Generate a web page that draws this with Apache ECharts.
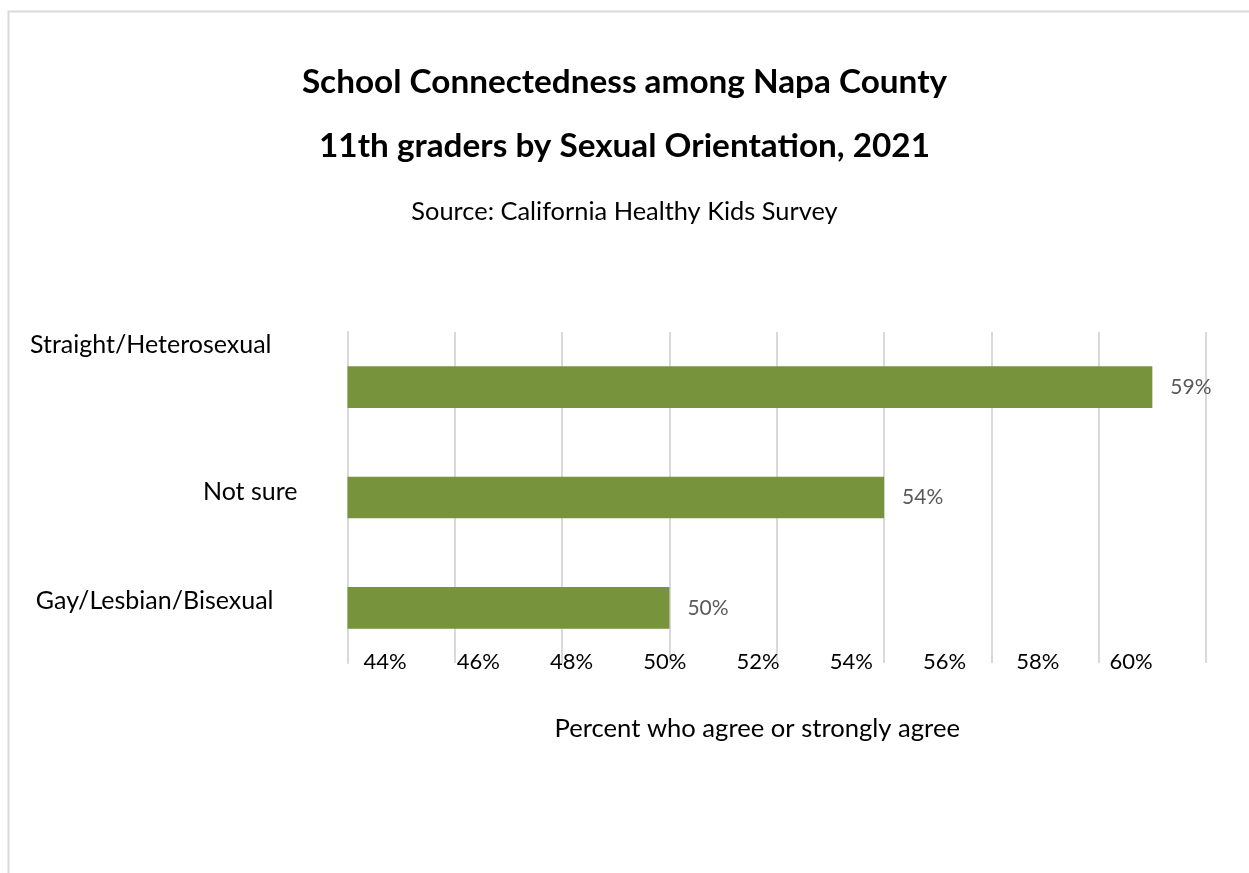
<!DOCTYPE html>
<html>
<head>
<meta charset="utf-8">
<script src="https://cdn.jsdelivr.net/npm/echarts@6/dist/echarts.min.js"></script>
<style>
html,body{margin:0;padding:0;background:#fff;}
#chart{width:1249px;height:873px;}
</style>
</head>
<body>
<div id="chart"></div>
<script>
const categories = ['Gay/Lesbian/Bisexual', 'Not sure', 'Straight/Heterosexual'];
const values = [50, 54, 59];
const tickLabels = [44, 46, 48, 50, 52, 54, 56, 58, 60];
const titleLine1 = 'School Connectedness among Napa County';
const titleLine2 = '11th graders by Sexual Orientation, 2021';
const subtitle = 'Source: California Healthy Kids Survey';
const axisTitle = 'Percent who agree or strongly agree';

const FONT = 'Lato, "Liberation Sans", sans-serif';
const chart = echarts.init(document.getElementById('chart'), null, {renderer: 'canvas'});

const labelRich = {
  s0: {padding: [0, 24, 14, 0]},
  s1: {padding: [0, 0, 12, 0]},
  s2: {padding: [0, 26, 84, 0]}
};
Object.values(labelRich).forEach(r => { r.fontFamily = FONT; r.fontSize = 25; r.color = '#000'; });

chart.setOption({
  backgroundColor: '#fff',
  animation: false,
  title: [
    {text: titleLine1, left: 'center', top: 61, textStyle: {fontFamily: FONT, fontWeight: 'bold', fontSize: 33.3, color: '#000'}},
    {text: titleLine2, left: 'center', top: 125, textStyle: {fontFamily: FONT, fontWeight: 'bold', fontSize: 33.3, color: '#000'}},
    {text: subtitle, left: 'center', top: 194, textStyle: {fontFamily: FONT, fontWeight: 'normal', fontSize: 25.4, color: '#000'}}
  ],
  graphic: [
    {type: 'rect', shape: {x: 8.5, y: 11.5, width: 1260, height: 900}, style: {fill: 'none', stroke: '#d9d9d9', lineWidth: 2}, silent: true, z: -1}
  ],
  grid: {left: 347.5, right: 43, top: 332, bottom: 210, containLabel: false},
  xAxis: [
    {
      type: 'value', min: 44, max: 60, interval: 2,
      axisLine: {show: false}, axisTick: {show: false}, axisLabel: {show: false},
      splitLine: {show: true, lineStyle: {color: '#d9d9d9', width: 2}},
      name: axisTitle, nameLocation: 'middle', nameGap: 53,
      nameTextStyle: {fontFamily: FONT, fontSize: 25.6, color: '#000', padding: [0, 39, 0, 0]}
    },
    {
      type: 'value', position: 'bottom', min: 43.196, max: 61.609,
      axisLine: {show: false}, axisTick: {show: false}, splitLine: {show: false},
      axisLabel: {
        show: true, customValues: tickLabels, margin: -1, verticalAlign: 'middle',
        formatter: v => v + '%', fontFamily: FONT, fontSize: 22, color: '#000'
      }
    }
  ],
  yAxis: {
    type: 'category', data: categories,
    axisLine: {show: true, lineStyle: {color: '#d9d9d9', width: 2}},
    axisTick: {show: false}, splitLine: {show: false},
    axisLabel: {
      margin: 50, align: 'right', verticalAlign: 'middle',
      formatter: (v, i) => '{s' + i + '|' + v + '}',
      rich: labelRich
    }
  },
  series: [{
    type: 'bar', xAxisIndex: 0, data: values, barWidth: '37.8%',
    itemStyle: {color: '#77933c'},
    label: {show: true, position: 'right', distance: 18, formatter: p => p.value + '%', fontFamily: FONT, fontSize: 21, color: '#595959'}
  }]
});
</script>
</body>
</html>
